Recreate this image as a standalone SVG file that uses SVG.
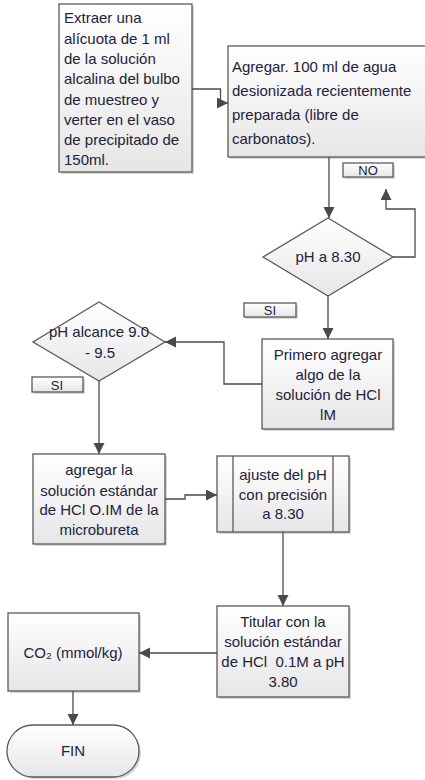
<svg xmlns="http://www.w3.org/2000/svg" width="425" height="780" viewBox="0 0 425 780">
<defs>
<linearGradient id="g" x1="0" y1="0" x2="0" y2="1">
<stop offset="0" stop-color="#ffffff"/>
<stop offset="1" stop-color="#e6e6e6"/>
</linearGradient>
<marker id="ah" markerUnits="userSpaceOnUse" markerWidth="12" markerHeight="12" refX="11" refY="5.5" orient="auto">
<path d="M0,0 L11,5.5 L0,11 z" fill="#4a4a4a"/>
</marker>
</defs>
<style>
.sh{fill:#c4c4c4;opacity:0.7}
.bx{fill:url(#g);stroke:#5a5a5a;stroke-width:1.3}
.t{font-family:"Liberation Sans",Arial,sans-serif;font-size:15px;fill:#22223c}
.c{text-anchor:middle}
.lb{font-family:"Liberation Sans",Arial,sans-serif;font-size:13px;fill:#22223c;text-anchor:middle}
.cn{fill:none;stroke:#4a4a4a;stroke-width:1.3;marker-end:url(#ah)}
</style>
<rect width="425" height="780" fill="#ffffff"/>

<g id="n1">
<rect class="sh" x="61" y="6" width="133" height="168"/>
<rect class="bx" x="59" y="4" width="133" height="168"/>
<text class="t" x="64" y="23">Extraer una</text>
<text class="t" x="64" y="43.5">alícuota de 1 ml</text>
<text class="t" x="64" y="64">de la solución</text>
<text class="t" x="64" y="84">alcalina del bulbo</text>
<text class="t" x="64" y="104.5">de muestreo y</text>
<text class="t" x="64" y="125">verter en el vaso</text>
<text class="t" x="64" y="145">de precipitado de</text>
<text class="t" x="64" y="165">150ml.</text>
</g>

<g id="n2">
<rect class="sh" x="230" y="48" width="200" height="111"/>
<rect class="bx" x="228" y="46" width="200" height="111"/>
<text class="t" x="232" y="72">Agregar. 100 ml de agua</text>
<text class="t" x="232" y="95.5">desionizada recientemente</text>
<text class="t" x="232" y="119.5">preparada (libre de</text>
<text class="t" x="232" y="144">carbonatos).</text>
</g>

<g id="lblNO">
<rect class="sh" x="345" y="165" width="50" height="14"/>
<rect class="bx" x="343" y="163" width="50" height="14"/>
<text class="lb" x="368" y="175">NO</text>
</g>

<g id="d1">
<polygon class="bx" points="328,218 393,257 328,296 263,257"/>
<text class="t c" x="328" y="262">pH a 8.30</text>
</g>

<g id="lblSI1">
<rect class="sh" x="246" y="305" width="52" height="14"/>
<rect class="bx" x="244" y="303" width="52" height="14"/>
<text class="lb" x="270" y="315">SI</text>
</g>

<g id="n3">
<rect class="sh" x="264" y="341" width="131" height="90"/>
<rect class="bx" x="262" y="339" width="131" height="90"/>
<text class="t c" x="328" y="360">Primero agregar</text>
<text class="t c" x="328" y="380">algo de la</text>
<text class="t c" x="328" y="400">solución de HCl</text>
<text class="t c" x="328" y="420">lM</text>
</g>

<g id="d2">
<polygon class="bx" points="99,302 165,342 99,381 33,342"/>
<text class="t c" x="99" y="337">pH alcance 9.0</text>
<text class="t c" x="100" y="358">- 9.5</text>
</g>

<g id="lblSI2">
<rect class="sh" x="34" y="379" width="51" height="15"/>
<rect class="bx" x="32" y="377" width="51" height="15"/>
<text class="lb" x="57" y="389.5">SI</text>
</g>

<g id="n4">
<rect class="sh" x="35" y="456" width="132" height="90"/>
<rect class="bx" x="33" y="454" width="132" height="90"/>
<text class="t c" x="99" y="475">agregar la</text>
<text class="t c" x="99" y="496">solución estándar</text>
<text class="t c" x="99" y="515">de HCl O.IM de la</text>
<text class="t c" x="99" y="535">microbureta</text>
</g>

<g id="n5">
<rect class="sh" x="219" y="458" width="132" height="76"/>
<rect class="bx" x="217" y="456" width="132" height="76"/>
<line x1="233" y1="456" x2="233" y2="532" stroke="#5a5a5a" stroke-width="1.3"/>
<line x1="333" y1="456" x2="333" y2="532" stroke="#5a5a5a" stroke-width="1.3"/>
<text class="t c" x="283" y="480">ajuste del pH</text>
<text class="t c" x="283" y="499.5">con precisión</text>
<text class="t c" x="283" y="519">a 8.30</text>
</g>

<g id="n6">
<rect class="sh" x="219" y="608" width="132" height="91"/>
<rect class="bx" x="217" y="606" width="132" height="91"/>
<text class="t c" x="283" y="627">Titular con la</text>
<text class="t c" x="283" y="647">solución estándar</text>
<text class="t c" x="283" y="667" xml:space="preserve">de HCl  0.1M a pH</text>
<text class="t c" x="283" y="687">3.80</text>
</g>

<g id="n7">
<rect class="sh" x="10" y="615" width="131" height="78"/>
<rect class="bx" x="8" y="613" width="131" height="78"/>
<text class="t c" x="73" y="658">CO₂ (mmol/kg)</text>
</g>

<g id="n8">
<rect class="sh" x="9" y="727" width="132" height="52" rx="26"/>
<rect class="bx" x="7" y="725" width="132" height="52" rx="26"/>
<text class="t c" x="73" y="756">FIN</text>
</g>

<g id="connectors">
<path class="cn" d="M192,89 H220.5 V103 H228"/>
<path class="cn" d="M329,157 V218"/>
<path class="cn" d="M393,257 H415 V209 H386 V189"/>
<path class="cn" d="M328,296 V339"/>
<path class="cn" d="M262,384 H224 V342 H165"/>
<path class="cn" d="M99,381 V454"/>
<path class="cn" d="M165,499 H185 V495 H217"/>
<path class="cn" d="M283,532 V606"/>
<path class="cn" d="M217,653 H139"/>
<path class="cn" d="M73,691 V725"/>
</g>
</svg>
